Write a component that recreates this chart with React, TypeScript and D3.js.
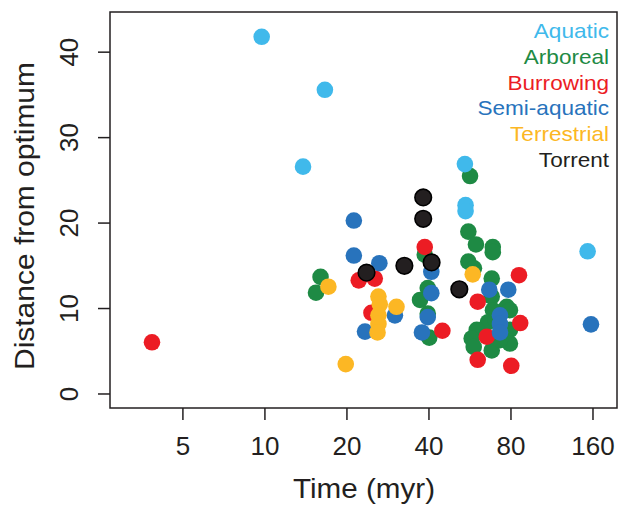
import React from 'react'
import * as d3 from 'd3'

// [time (myr), distance from optimum]
const aquatic = [
  [9.73, 41.8], [16.6, 35.6], [13.8, 26.6], [54.2, 26.9], [54.5, 22.1],
  [54.5, 21.4], [152.9, 16.7],
]
const arboreal = [
  [16.0, 13.7], [15.4, 11.85], [56.6, 25.5], [55.8, 19.0], [59.5, 17.5],
  [68.6, 17.2], [68.6, 16.6], [55.8, 15.5], [58.5, 14.7], [68.0, 13.5],
  [38.6, 16.3], [39.6, 12.4], [37.1, 11.0], [39.6, 9.4], [40.1, 6.6],
  [68.0, 11.4], [77.2, 10.2], [68.7, 9.8], [79.3, 9.8], [65.9, 8.4],
  [70.4, 8.7], [79.3, 7.5], [59.9, 7.5], [57.4, 6.5], [58.4, 5.5],
  [68.0, 5.1], [79.3, 5.9], [72.9, 6.3],
]
const burrowing = [
  [3.85, 6.05], [22.1, 13.3], [25.3, 13.5], [24.6, 9.5], [38.6, 17.2],
  [44.8, 7.4], [85.6, 13.9], [60.4, 10.8], [86.5, 8.3], [65.2, 6.7],
  [60.4, 4.0], [80.2, 3.3],
]
const semiAquatic = [
  [21.2, 20.3], [21.2, 16.2], [26.3, 15.3], [30.0, 9.2], [23.3, 7.3],
  [40.8, 14.3], [40.8, 11.8], [39.6, 9.0], [37.7, 7.2], [66.6, 12.2],
  [78.2, 12.2], [72.9, 9.2], [72.9, 8.2], [72.9, 7.2], [157.3, 8.15],
]
const terrestrial = [
  [17.1, 12.55], [19.8, 3.5], [26.1, 11.4], [26.4, 10.5], [26.1, 9.2],
  [26.1, 8.2], [25.9, 7.2], [30.4, 10.2], [57.9, 14.0],
]
const torrent = [
  [23.6, 14.2], [32.5, 15.0], [38.1, 23.0], [38.1, 20.5], [40.9, 15.4],
  [51.7, 12.25],
]

const groups = [
  { name: 'Aquatic', color: '#40b9eb', pts: aquatic },
  { name: 'Arboreal', color: '#1e8a44', pts: arboreal },
  { name: 'Burrowing', color: '#ec1c24', pts: burrowing },
  { name: 'Semi-aquatic', color: '#2873bc', pts: semiAquatic },
  { name: 'Terrestrial', color: '#fcb724', pts: terrestrial },
  { name: 'Torrent', color: '#231f20', pts: torrent },
]
// draw order: later ones on top
const drawOrder = ['Arboreal', 'Burrowing', 'Semi-aquatic', 'Terrestrial', 'Aquatic', 'Torrent']

const xTicks = [5, 10, 20, 40, 80, 160]
const yTicks = [0, 10, 20, 30, 40]

const W = 629
const H = 507
const box = { left: 110, right: 617, top: 12, bottom: 408 }
const font = '"Liberation Sans", Arial, Helvetica, sans-serif'
const ink = '#231f20'

export default function App() {
  const x = d3.scaleLog().domain([2.7, 196]).range([box.left, box.right])
  const y = d3.scaleLinear().domain([-1.64, 44.7]).range([box.bottom, box.top])

  const ordered = drawOrder.map((n) => groups.find((g) => g.name === n)!)

  return (
    <svg
      width={W}
      height={H}
      style={{ position: 'absolute', left: 0, top: 0, background: '#fff' }}
      fontFamily={font}
    >
      {ordered.map((g) => (
        <g key={g.name}>
          {g.pts.map((d, i) => (
            <circle
              key={i}
              cx={x(d[0])}
              cy={y(d[1])}
              r={8.3}
              fill={g.color}
              stroke={g.name === 'Torrent' ? '#000' : 'none'}
              strokeWidth={g.name === 'Torrent' ? 1.6 : 0}
            />
          ))}
        </g>
      ))}

      <rect
        x={box.left}
        y={box.top}
        width={box.right - box.left}
        height={box.bottom - box.top}
        fill="none"
        stroke={ink}
        strokeWidth={1.5}
      />

      {xTicks.map((t) => (
        <g key={t}>
          <line x1={x(t)} x2={x(t)} y1={box.bottom} y2={box.bottom + 12} stroke={ink} strokeWidth={1.5} />
          <text x={x(t)} y={455} textAnchor="middle" fontSize={26} fill={ink}>
            {t}
          </text>
        </g>
      ))}

      {yTicks.map((t) => (
        <g key={t}>
          <line x1={box.left - 12} x2={box.left} y1={y(t)} y2={y(t)} stroke={ink} strokeWidth={1.5} />
          <text
            transform={`translate(78,${y(t)}) rotate(-90)`}
            textAnchor="middle"
            fontSize={26}
            fill={ink}
          >
            {t}
          </text>
        </g>
      ))}

      <text
        x={364}
        y={498}
        textAnchor="middle"
        fontSize={27}
        fill={ink}
        textLength={142}
        lengthAdjust="spacingAndGlyphs"
      >
        Time (myr)
      </text>
      <text
        transform={`translate(34,216) rotate(-90)`}
        textAnchor="middle"
        fontSize={27}
        fill={ink}
        textLength={308}
        lengthAdjust="spacingAndGlyphs"
      >
        Distance from optimum
      </text>

      {groups.map((g, i) => (
        <text
          key={g.name}
          transform={`translate(609,${38 + i * 25.8}) scale(1.1,1)`}
          textAnchor="end"
          fontSize={20.5}
          fill={g.color}
        >
          {g.name}
        </text>
      ))}
    </svg>
  )
}
